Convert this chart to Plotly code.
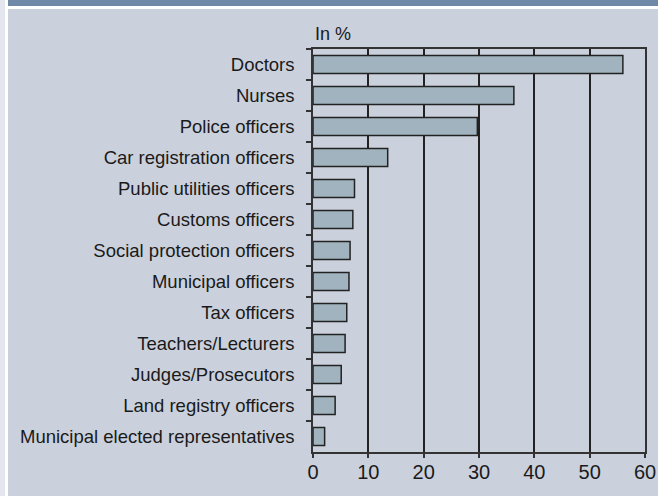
import plotly.graph_objects as go

categories = [
    "Doctors", "Nurses", "Police officers", "Car registration officers",
    "Public utilities officers", "Customs officers", "Social protection officers",
    "Municipal officers", "Tax officers", "Teachers/Lecturers",
    "Judges/Prosecutors", "Land registry officers", "Municipal elected representatives",
]
values = [56.0, 36.3, 29.7, 13.5, 7.5, 7.2, 6.7, 6.5, 6.1, 5.8, 5.1, 4.0, 2.1]
x_ticks = [0, 10, 20, 30, 40, 50, 60]
unit_label = "In %"

W, H = 658, 496
L, R, T, B = 313, 13, 49, 44
PW, PH = W - L - R, H - T - B

def px(x):
    return (x - L) / PW

def py(y):
    return 1 - (y - T) / PH

PANEL = "#cad1dd"
FONT = "Liberation Sans, Arial, sans-serif"
DARK = "#222222"
TXT = "#1a1a1a"

fig = go.Figure(go.Bar(
    x=values, y=categories, orientation="h",
    marker=dict(color="#a1b3be", line=dict(color=DARK, width=1.5)),
))

shapes = [
    dict(type="rect", xref="paper", yref="paper", x0=px(0), x1=px(W), y0=py(H), y1=py(0),
         fillcolor="white", line_width=0, layer="below"),
    dict(type="rect", xref="paper", yref="paper", x0=px(0), x1=px(5), y0=py(H), y1=py(0),
         fillcolor="#e3e6ef", line_width=0, layer="below"),
    dict(type="rect", xref="paper", yref="paper", x0=px(8), x1=px(W), y0=py(H), y1=py(9),
         fillcolor=PANEL, line_width=0, layer="below"),
    dict(type="rect", xref="paper", yref="paper", x0=px(8), x1=px(W), y0=py(6), y1=py(0),
         fillcolor="#6f88a8", line_width=0, layer="below"),
]

fig.update_layout(
    width=W, height=H,
    margin=dict(l=L, r=R, t=T, b=B, autoexpand=False),
    paper_bgcolor="white", plot_bgcolor=PANEL,
    font=dict(family=FONT, size=18, color=TXT),
    bargap=0.42, showlegend=False, shapes=shapes,
    annotations=[dict(text=unit_label, xref="paper", yref="paper", x=0, y=py(34),
                      xanchor="left", yanchor="middle", showarrow=False,
                      font=dict(family=FONT, size=18, color=TXT))],
)
fig.update_xaxes(
    range=[0, 60], tickvals=x_ticks, showgrid=True, gridcolor=DARK, gridwidth=1.5,
    showline=True, linecolor="#333333", linewidth=1.5, mirror=True,
    ticks="outside", ticklen=4, tickcolor="#333333", tickwidth=1.5, zeroline=False,
    automargin=False, ticklabelstandoff=-3,
    tickfont=dict(family=FONT, size=20, color=TXT),
)
fig.update_yaxes(
    categoryorder="array", categoryarray=categories, autorange="reversed",
    showline=True, linecolor="#333333", linewidth=1.5, mirror=True,
    ticks="outside", ticklen=5, tickcolor="#333333", tickwidth=1.5,
    tickson="boundaries", showgrid=False, automargin=False,
    ticklabelstandoff=13, tickfont=dict(family=FONT, size=18.5, color=TXT),
)

fig.write_html("out.html")
